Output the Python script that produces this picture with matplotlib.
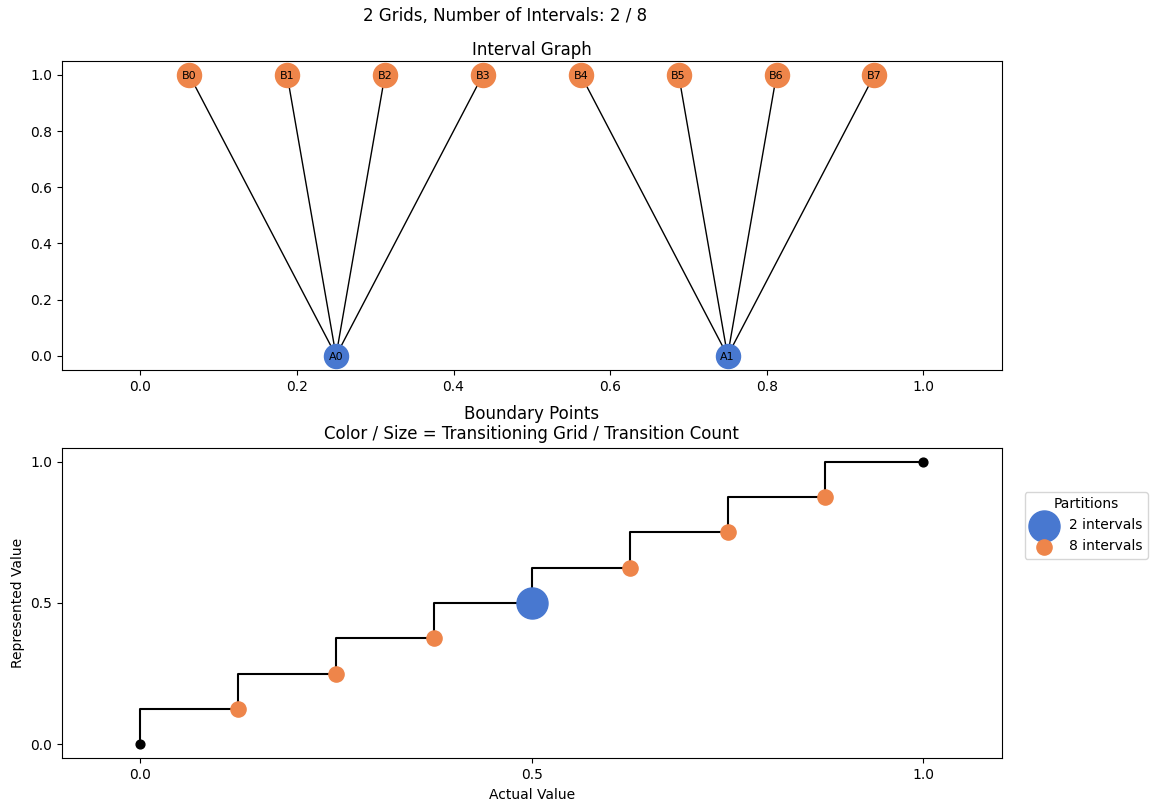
import matplotlib
matplotlib.use("Agg")
from matplotlib import pyplot as plt

BLUE = "#4878d0"
ORANGE = "#ee854a"

# interval graph nodes
a_labels = ["A0", "A1"]
a_x = [0.25, 0.75]
b_labels = ["B0", "B1", "B2", "B3", "B4", "B5", "B6", "B7"]
b_x = [0.0625, 0.1875, 0.3125, 0.4375, 0.5625, 0.6875, 0.8125, 0.9375]
edges = [(0, 0), (0, 1), (0, 2), (0, 3), (1, 4), (1, 5), (1, 6), (1, 7)]

# boundary points
bound_x = [0.0, 0.125, 0.25, 0.375, 0.5, 0.625, 0.75, 0.875, 1.0]
bound_y = [0.0, 0.125, 0.25, 0.375, 0.5, 0.625, 0.75, 0.875, 1.0]
pts8_x = [0.125, 0.25, 0.375, 0.625, 0.75, 0.875]
pts8_y = [0.125, 0.25, 0.375, 0.625, 0.75, 0.875]
pts2_x = [0.5]
pts2_y = [0.5]
end_x = [0.0, 1.0]
end_y = [0.0, 1.0]

fig = plt.figure(figsize=(11.58, 8.11), dpi=100)
ax1 = fig.add_axes([0.0535, 0.544, 0.8115, 0.381])
ax2 = fig.add_axes([0.0535, 0.065, 0.8115, 0.383])

fig.suptitle("2 Grids, Number of Intervals: 2 / 8", x=0.436, y=0.991)

for ai, bi in edges:
    ax1.plot([a_x[ai], b_x[bi]], [0, 1], color="black", lw=1, zorder=1)
ax1.scatter(a_x, [0] * len(a_x), s=300, color=BLUE, zorder=2)
ax1.scatter(b_x, [1] * len(b_x), s=300, color=ORANGE, zorder=2)
for lbl, x in zip(a_labels, a_x):
    ax1.text(x, 0, lbl, fontsize=8, ha="center", va="center_baseline", zorder=3)
for lbl, x in zip(b_labels, b_x):
    ax1.text(x, 1, lbl, fontsize=8, ha="center", va="center_baseline", zorder=3)
ax1.set_xlim(-0.1, 1.1)
ax1.set_ylim(-0.05, 1.05)
ax1.set_title("Interval Graph", pad=4)

ax2.step(bound_x, bound_y, where="pre", color="black", lw=1.5, zorder=1)
ax2.scatter(end_x, end_y, s=40, color="black", zorder=2)
ax2.scatter(pts2_x, pts2_y, s=500, color=BLUE, zorder=2, label="2 intervals")
ax2.scatter(pts8_x, pts8_y, s=120, color=ORANGE, zorder=2, label="8 intervals")
ax2.set_xlim(-0.1, 1.1)
ax2.set_ylim(-0.05, 1.05)
ax2.set_xticks([0.0, 0.5, 1.0])
ax2.set_yticks([0.0, 0.5, 1.0])
ax2.set_xlabel("Actual Value")
ax2.set_ylabel("Represented Value")
ax2.set_title("Boundary Points\nColor / Size = Transitioning Grid / Transition Count")
ax2.legend(title="Partitions", loc="upper left", bbox_to_anchor=(1.017, 0.88))

fig.savefig("out.png", dpi=100)
